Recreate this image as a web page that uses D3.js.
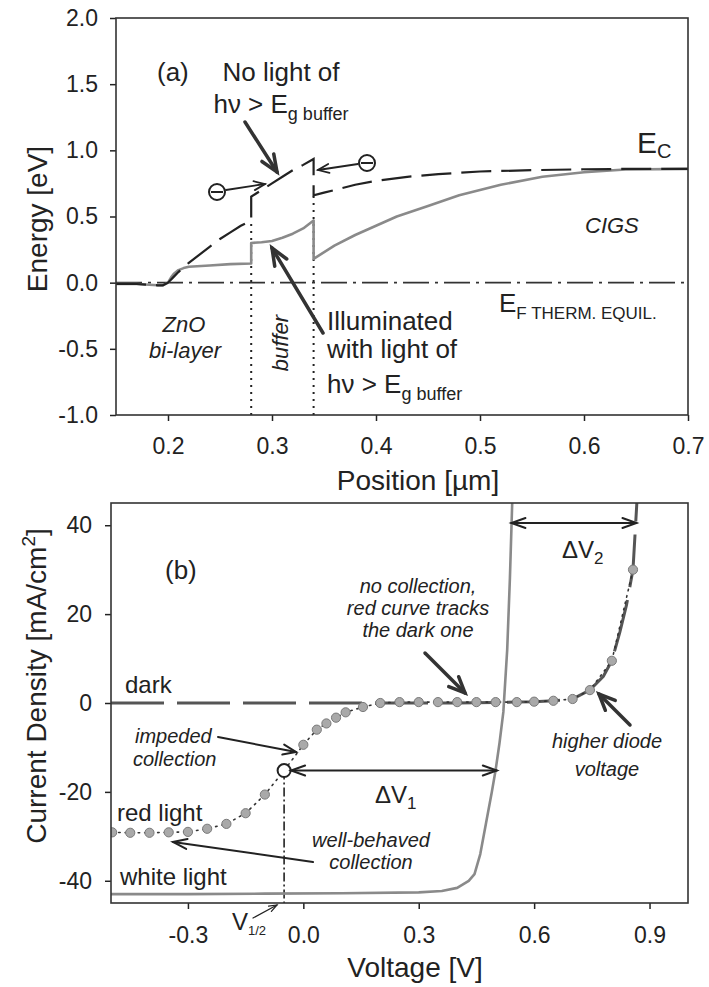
<!DOCTYPE html>
<html>
<head>
<meta charset="utf-8">
<script src="https://cdn.jsdelivr.net/npm/d3@7"></script>
<style>
  html, body { margin: 0; padding: 0; background: #fff; }
  svg { display: block; }
  text { font-family: "Liberation Sans", Arial, Helvetica, sans-serif; fill: #222; }
</style>
</head>
<body>
<svg id="fig" width="709" height="987"></svg>
<script>
// ---------- (a) band diagram ----------
const positionTicks = [0.2, 0.3, 0.4, 0.5, 0.6, 0.7];
const energyTicks = [-1.0, -0.5, 0.0, 0.5, 1.0, 1.5, 2.0];

// conduction band without buffer-absorbed light (dashed)
const darkBandPos = [0.15, 0.17, 0.19, 0.195, 0.20, 0.205, 0.21, 0.22, 0.23, 0.24, 0.25, 0.26, 0.27, 0.28,
                     0.28, 0.29, 0.30, 0.31, 0.32, 0.33, 0.34,
                     0.34, 0.35, 0.36, 0.38, 0.40, 0.43, 0.46, 0.50, 0.55, 0.60, 0.65, 0.70];
const darkBandE   = [-0.01, -0.01, -0.02, -0.02, 0.0, 0.04, 0.08, 0.15, 0.21, 0.27, 0.33, 0.38, 0.43, 0.47,
                     0.65, 0.70, 0.75, 0.80, 0.85, 0.89, 0.935,
                     0.66, 0.68, 0.70, 0.74, 0.77, 0.80, 0.82, 0.84, 0.85, 0.857, 0.86, 0.86];

// conduction band under light of hv > Eg buffer (solid grey)
const litBandPos = [0.15, 0.17, 0.19, 0.195, 0.20, 0.203, 0.206, 0.21, 0.215, 0.22, 0.24, 0.26, 0.28,
                    0.28, 0.29, 0.30, 0.31, 0.32, 0.33, 0.34,
                    0.34, 0.36, 0.38, 0.40, 0.42, 0.45, 0.48, 0.52, 0.56, 0.60, 0.64, 0.70];
const litBandE   = [-0.01, -0.01, -0.02, -0.02, 0.0, 0.04, 0.07, 0.095, 0.11, 0.12, 0.13, 0.14, 0.145,
                    0.30, 0.305, 0.315, 0.34, 0.37, 0.41, 0.47,
                    0.18, 0.28, 0.36, 0.43, 0.50, 0.58, 0.66, 0.74, 0.80, 0.835, 0.855, 0.86];

const fermiPos = [0.15, 0.70];
const fermiE = [0.0, 0.0];

// ZnO/buffer and buffer/CIGS interfaces
const interfacePos = [0.28, 0.34];
const interfaceTopE = [0.47, 0.66];

// ---------- (b) J-V curves ----------
const voltageTicks = [-0.3, 0.0, 0.3, 0.6, 0.9];
const currentTicks = [-40, -20, 0, 20, 40];

const darkV = [-0.50, -0.30, 0.00, 0.20, 0.40, 0.55, 0.60, 0.65, 0.70, 0.745, 0.78, 0.802, 0.823, 0.84, 0.857, 0.867];
const darkJ = [0, 0, 0, 0, 0, 0.2, 0.3, 0.5, 0.9, 2.9, 6.0, 9.5, 16, 22, 30, 45];

const whiteV = [-0.50, -0.30, -0.10, 0.10, 0.30, 0.36, 0.40, 0.43, 0.445, 0.46, 0.475, 0.49, 0.50, 0.51, 0.52, 0.53, 0.537, 0.543];
const whiteJ = [-43, -43, -42.9, -42.8, -42.6, -42.3, -41.6, -40, -38.5, -34, -27, -20, -15, -9, -2, 12, 28, 45];

const redV = [-0.497, -0.45, -0.40, -0.35, -0.30, -0.25, -0.20, -0.15, -0.10, -0.05, 0.00,
              0.035, 0.06, 0.085, 0.11, 0.155, 0.20, 0.25, 0.30, 0.35, 0.40, 0.45, 0.50, 0.555,
              0.60, 0.65, 0.70, 0.745, 0.802, 0.857];
const redJ = [-29.1, -29.2, -29.2, -29.1, -29.0, -28.3, -27.2, -24.8, -20.6, -15.2, -9.4,
              -6.0, -4.6, -3.3, -2.1, -0.9, 0, 0.2, 0.2, 0.2, 0.2, 0.2, 0.2, 0.2,
              0.3, 0.5, 0.9, 2.9, 9.5, 30];

// half-current point of the red-light curve and the voltage shifts
const halfIndex = 9;           // redV[9] = -0.05 V, J = -15.2
const deltaV1End = 0.503;      // white curve at the same current
const deltaV2J = 40.5;
const deltaV2From = 0.541;
const deltaV2To = 0.866;

// ---------- drawing ----------
const svg = d3.select("#fig");
const fmtLocale = d3.formatLocale({decimal: ".", thousands: ",", grouping: [3], currency: ["", ""], minus: "-"});
const fmt1 = fmtLocale.format(".1f");
const fmt0 = fmtLocale.format("d");
const INK = "#222";

function arrow(g, x1, y1, x2, y2, o = {}) {
  const w = o.width || 2, L = o.head || 12, H = o.half || 5, col = o.color || INK;
  g.append("line").attr("x1", x1).attr("y1", y1).attr("x2", x2).attr("y2", y2)
    .attr("stroke", col).attr("stroke-width", w).attr("stroke-linecap", "round");
  const heads = o.both ? [[x2, y2, x1, y1], [x1, y1, x2, y2]] : [[x1, y1, x2, y2]];
  heads.forEach(([ax, ay, bx, by]) => {
    const a = Math.atan2(by - ay, bx - ax);
    const p = (s) => [bx - L * Math.cos(a) + s * H * Math.sin(a), by - L * Math.sin(a) - s * H * Math.cos(a)];
    const [p1, p2] = [p(1), p(-1)];
    g.append("path").attr("d", `M${p1[0]},${p1[1]}L${bx},${by}L${p2[0]},${p2[1]}`)
      .attr("fill", "none").attr("stroke", col).attr("stroke-width", w)
      .attr("stroke-linecap", "round").attr("stroke-linejoin", "miter");
  });
}

function styleAxis(g, size) {
  g.select(".domain").remove();
  g.selectAll(".tick line").attr("stroke", INK).attr("stroke-width", 1.5);
  g.selectAll(".tick text").attr("font-size", size).attr("fill", INK)
    .style("font-family", '"Liberation Sans", Arial, sans-serif');
}

// ===== panel (a) =====
const xa = d3.scaleLinear().domain([0.15, 0.70]).range([116, 688]);
const ya = d3.scaleLinear().domain([-1, 2]).range([415, 18]);
const ga = svg.append("g");

ga.append("g").attr("transform", `translate(0,${ya(-1)})`)
  .call(d3.axisBottom(xa).tickValues(positionTicks).tickFormat(fmt1).tickSize(6).tickSizeOuter(0).tickPadding(17))
  .call(g => styleAxis(g, 23));
ga.append("g").attr("transform", `translate(${xa(0.15)},0)`)
  .call(d3.axisLeft(ya).tickValues(energyTicks).tickFormat(fmt1).tickSize(6).tickSizeOuter(0).tickPadding(12))
  .call(g => styleAxis(g, 23));

const lineA = (xs, ys) => d3.line().x((d, i) => xa(xs[i])).y((d, i) => ya(ys[i]))(xs);

// interfaces
interfacePos.forEach((p, i) => {
  ga.append("line").attr("x1", xa(p)).attr("x2", xa(p)).attr("y1", ya(-1)).attr("y2", ya(interfaceTopE[i]))
    .attr("stroke", INK).attr("stroke-width", 2).attr("stroke-dasharray", "2,5");
});
// Fermi level
ga.append("path").attr("d", lineA(fermiPos, fermiE)).attr("fill", "none")
  .attr("stroke", "#333").attr("stroke-width", 1.8).attr("stroke-dasharray", "26,6,3,6");
// illuminated band
ga.append("path").attr("d", lineA(litBandPos, litBandE)).attr("fill", "none")
  .attr("stroke", "#8a8a8a").attr("stroke-width", 2.6).attr("stroke-linejoin", "round");
// band without buffer light
ga.append("path").attr("d", lineA(darkBandPos, darkBandE)).attr("fill", "none")
  .attr("stroke", INK).attr("stroke-width", 2.2).attr("stroke-dasharray", "30,10");

// frame
ga.append("rect").attr("x", xa(0.15)).attr("y", ya(2)).attr("width", xa(0.7) - xa(0.15)).attr("height", ya(-1) - ya(2))
  .attr("fill", "none").attr("stroke", "#333").attr("stroke-width", 1.6);

// axis titles
ga.append("text").attr("x", 418).attr("y", 490).attr("text-anchor", "middle").attr("font-size", 28).text("Position [µm]");
ga.append("text").attr("transform", "translate(47,219) rotate(-90)").attr("text-anchor", "middle").attr("font-size", 28).text("Energy [eV]");

// annotations (a)
ga.append("text").attr("x", 157).attr("y", 81).attr("font-size", 26).text("(a)");
ga.append("text").attr("x", 281).attr("y", 81).attr("text-anchor", "middle").attr("font-size", 26).text("No light of");
{
  const t = ga.append("text").attr("x", 281).attr("y", 113).attr("text-anchor", "middle").attr("font-size", 26);
  t.append("tspan").text("hν > E");
  t.append("tspan").attr("dy", 7).attr("font-size", 18).text("g buffer");
}
{
  const t = ga.append("text").attr("x", 637).attr("y", 153).attr("font-size", 30);
  t.append("tspan").text("E");
  t.append("tspan").attr("dy", 5).attr("font-size", 20).text("C");
}
ga.append("text").attr("x", 585).attr("y", 233).attr("font-size", 22).attr("font-style", "italic").text("CIGS");
{
  const t = ga.append("text").attr("x", 499).attr("y", 312).attr("font-size", 26);
  t.append("tspan").text("E");
  t.append("tspan").attr("dy", 7).attr("font-size", 17).text("F THERM. EQUIL.");
}
ga.append("text").attr("x", 184).attr("y", 332).attr("text-anchor", "middle").attr("font-size", 22).attr("font-style", "italic").text("ZnO");
ga.append("text").attr("x", 185).attr("y", 358).attr("text-anchor", "middle").attr("font-size", 22).attr("font-style", "italic").text("bi-layer");
ga.append("text").attr("transform", "translate(288,343) rotate(-90)").attr("text-anchor", "middle").attr("font-size", 22).attr("font-style", "italic").text("buffer");
ga.append("text").attr("x", 327).attr("y", 330).attr("font-size", 26).text("Illuminated");
ga.append("text").attr("x", 327).attr("y", 358).attr("font-size", 26).text("with light of");
{
  const t = ga.append("text").attr("x", 327).attr("y", 393).attr("font-size", 26);
  t.append("tspan").text("hν > E");
  t.append("tspan").attr("dy", 7).attr("font-size", 18).text("g buffer");
}
// electrons
[[217, 192], [367, 163]].forEach(([cx, cy]) => {
  ga.append("circle").attr("cx", cx).attr("cy", cy).attr("r", 8).attr("fill", "#fff").attr("stroke", INK).attr("stroke-width", 2);
  ga.append("line").attr("x1", cx - 6).attr("x2", cx + 6).attr("y1", cy).attr("y2", cy).attr("stroke", INK).attr("stroke-width", 2);
});
arrow(ga, 226, 190, 265, 184, {width: 1.8, head: 11, half: 4.5});
arrow(ga, 358, 164, 318, 170, {width: 1.8, head: 11, half: 4.5});
arrow(ga, 245, 122, 277, 172, {width: 3.5, head: 17, half: 7, color: "#333"});
arrow(ga, 323, 333, 272, 248, {width: 3.5, head: 17, half: 7, color: "#333"});

// ===== panel (b) =====
const xb = d3.scaleLinear().domain([-0.5, 1.0]).range([111, 688]);
const yb = d3.scaleLinear().domain([-45, 45]).range([903, 503]);
const gb = svg.append("g");

gb.append("g").attr("transform", `translate(0,${yb(-45)})`)
  .call(d3.axisBottom(xb).tickValues(voltageTicks).tickFormat(fmt1).tickSize(6).tickSizeOuter(0).tickPadding(18))
  .call(g => styleAxis(g, 23));
gb.append("g").attr("transform", `translate(${xb(-0.5)},0)`)
  .call(d3.axisLeft(yb).tickValues(currentTicks).tickFormat(fmt0).tickSize(6).tickSizeOuter(0).tickPadding(13))
  .call(g => styleAxis(g, 23));

const clip = gb.append("clipPath").attr("id", "clipb");
clip.append("rect").attr("x", xb(-0.5)).attr("y", yb(45)).attr("width", xb(1) - xb(-0.5)).attr("height", yb(-45) - yb(45));
const plotB = gb.append("g").attr("clip-path", "url(#clipb)");
const lineB = (xs, ys) => d3.line().x((d, i) => xb(xs[i])).y((d, i) => yb(ys[i]))(xs);

// V1/2 marker line
plotB.append("line").attr("x1", xb(redV[halfIndex])).attr("x2", xb(redV[halfIndex]))
  .attr("y1", yb(redJ[halfIndex])).attr("y2", yb(-45))
  .attr("stroke", INK).attr("stroke-width", 1.6).attr("stroke-dasharray", "9,3,2,3");
// white light
plotB.append("path").attr("d", lineB(whiteV, whiteJ)).attr("fill", "none")
  .attr("stroke", "#8a8a8a").attr("stroke-width", 2.6).attr("stroke-linejoin", "round");
// dark
plotB.append("path").attr("d", lineB(darkV, darkJ)).attr("fill", "none")
  .attr("stroke", "#555").attr("stroke-width", 3).attr("stroke-dasharray", "53,13");
// red light
plotB.append("path").attr("d", lineB(redV, redJ)).attr("fill", "none")
  .attr("stroke", "#333").attr("stroke-width", 1.6).attr("stroke-dasharray", "1.5,5").attr("stroke-linecap", "round");
plotB.selectAll("circle.red").data(redV).join("circle").attr("class", "red")
  .attr("cx", d => xb(d)).attr("cy", (d, i) => yb(redJ[i])).attr("r", 4.6)
  .attr("fill", "#a9a9a9").attr("stroke", "#7a7a7a").attr("stroke-width", 1);
plotB.append("circle").attr("cx", xb(redV[halfIndex])).attr("cy", yb(redJ[halfIndex])).attr("r", 6.5)
  .attr("fill", "#fff").attr("stroke", INK).attr("stroke-width", 2);

// frame
gb.append("rect").attr("x", xb(-0.5)).attr("y", yb(45)).attr("width", xb(1) - xb(-0.5)).attr("height", yb(-45) - yb(45))
  .attr("fill", "none").attr("stroke", "#333").attr("stroke-width", 1.6);

// axis titles
gb.append("text").attr("x", 415).attr("y", 977).attr("text-anchor", "middle").attr("font-size", 28).text("Voltage [V]");
{
  const t = gb.append("text").attr("transform", "translate(46,686) rotate(-90)").attr("text-anchor", "middle").attr("font-size", 28);
  t.append("tspan").text("Current Density [mA/cm");
  t.append("tspan").attr("dy", -11).attr("font-size", 19).text("2");
  t.append("tspan").attr("dy", 11).text("]");
}

// annotations (b)
gb.append("text").attr("x", 165).attr("y", 579).attr("font-size", 26).text("(b)");
gb.append("text").attr("x", 125).attr("y", 693).attr("font-size", 24).text("dark");
gb.append("text").attr("x", 117).attr("y", 821).attr("font-size", 24).text("red light");
gb.append("text").attr("x", 120).attr("y", 885).attr("font-size", 24).text("white light");
[["no collection,", 593], ["red curve tracks", 615], ["the dark one", 637]].forEach(([s, y]) =>
  gb.append("text").attr("x", 418).attr("y", y).attr("text-anchor", "middle").attr("font-size", 20).attr("font-style", "italic").text(s));
gb.append("text").attr("x", 135).attr("y", 743).attr("font-size", 20).attr("font-style", "italic").text("impeded");
gb.append("text").attr("x", 133).attr("y", 766).attr("font-size", 20).attr("font-style", "italic").text("collection");
gb.append("text").attr("x", 371).attr("y", 847).attr("text-anchor", "middle").attr("font-size", 20).attr("font-style", "italic").text("well-behaved");
gb.append("text").attr("x", 371).attr("y", 869).attr("text-anchor", "middle").attr("font-size", 20).attr("font-style", "italic").text("collection");
gb.append("text").attr("x", 607).attr("y", 748).attr("text-anchor", "middle").attr("font-size", 20).attr("font-style", "italic").text("higher diode");
gb.append("text").attr("x", 607).attr("y", 776).attr("text-anchor", "middle").attr("font-size", 20).attr("font-style", "italic").text("voltage");
{
  const t = gb.append("text").attr("x", 375).attr("y", 803).attr("font-size", 24);
  t.append("tspan").text("ΔV");
  t.append("tspan").attr("dy", 6).attr("font-size", 17).text("1");
}
{
  const t = gb.append("text").attr("x", 562).attr("y", 558).attr("font-size", 24);
  t.append("tspan").text("ΔV");
  t.append("tspan").attr("dy", 6).attr("font-size", 17).text("2");
}
{
  const t = gb.append("text").attr("x", 232).attr("y", 930).attr("font-size", 24);
  t.append("tspan").text("V");
  t.append("tspan").attr("dy", 5).attr("font-size", 13).text("1/2");
}

// arrows (b)
arrow(gb, xb(redV[halfIndex]) + 7, yb(redJ[halfIndex]), xb(deltaV1End), yb(redJ[halfIndex]), {both: true, width: 2, head: 14, half: 5});
arrow(gb, xb(deltaV2From), yb(deltaV2J), xb(deltaV2To), yb(deltaV2J), {both: true, width: 2, head: 14, half: 5});
arrow(gb, 218, 737, 296, 752, {width: 2, head: 13, half: 5});
arrow(gb, 313, 862, 173, 842, {width: 2, head: 14, half: 5});
arrow(gb, 253, 918, 277, 905, {width: 1.2, head: 8, half: 3});
arrow(gb, 425, 653, 465, 693, {width: 3.5, head: 16, half: 7, color: "#333"});
arrow(gb, 630, 725, 599, 694, {width: 3.5, head: 16, half: 7, color: "#333"});
</script>
</body>
</html>
